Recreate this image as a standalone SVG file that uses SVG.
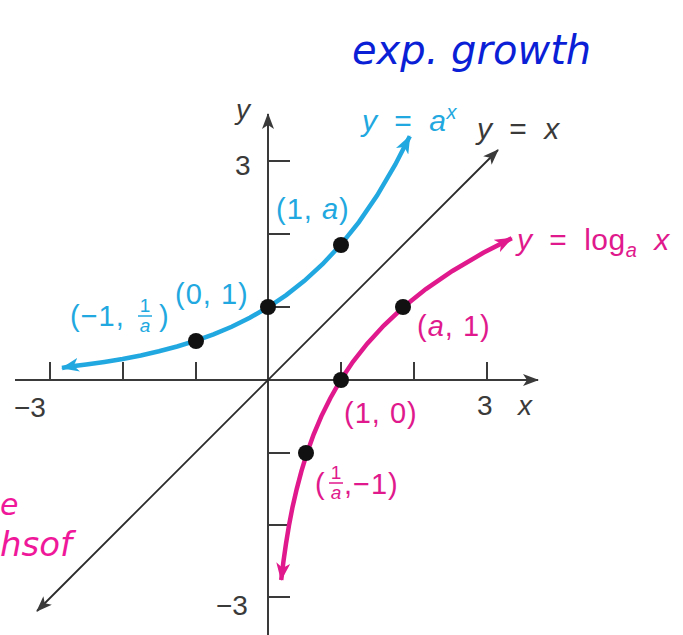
<svg xmlns="http://www.w3.org/2000/svg" width="683" height="635" viewBox="0 0 683 635">
<style>
.ax{stroke:#3a3a3a;stroke-width:2;fill:none}
.tk{stroke:#3a3a3a;stroke-width:2}
.lbl{font-family:"Liberation Sans",Arial,sans-serif;font-size:28px}
.pl{font-size:29px;letter-spacing:1px}
.eq{font-size:30px;word-spacing:8px;letter-spacing:0.5px}
.fr{font-size:19px}
.k{fill:#3a3a3a}
.b{fill:#22a8e0}
.m{fill:#e0198c}
.dot{fill:#111}
.hw{font-family:"DejaVu Sans","Liberation Sans",sans-serif;font-style:italic}
</style>
<defs>
<marker id="ak" markerWidth="16" markerHeight="12" refX="15" refY="6" orient="auto-start-reverse" markerUnits="userSpaceOnUse"><path d="M0,0 L16,6 L0,12 L4,6 Z" fill="#3a3a3a"/></marker>
<marker id="ab" markerWidth="18" markerHeight="14" refX="17" refY="7" orient="auto-start-reverse" markerUnits="userSpaceOnUse"><path d="M0,0 L18,7 L0,14 L5,7 Z" fill="#22a8e0"/></marker>
<marker id="am" markerWidth="18" markerHeight="14" refX="17" refY="7" orient="auto-start-reverse" markerUnits="userSpaceOnUse"><path d="M0,0 L18,7 L0,14 L5,7 Z" fill="#e0198c"/></marker>
</defs>
<rect width="683" height="635" fill="#fff"/>
<g id="axes">
<line class="ax" x1="15" y1="380" x2="538" y2="380" marker-end="url(#ak)"/>
<line class="ax" x1="268" y1="635" x2="268" y2="114" marker-end="url(#ak)"/>
<g class="tk">
<line x1="50" y1="362" x2="50" y2="380"/><line x1="123" y1="362" x2="123" y2="380"/><line x1="196" y1="362" x2="196" y2="380"/>
<line x1="341" y1="362" x2="341" y2="380"/><line x1="414" y1="362" x2="414" y2="380"/><line x1="487" y1="362" x2="487" y2="380"/>
<line x1="268" y1="161" x2="290" y2="161"/><line x1="268" y1="234" x2="290" y2="234"/><line x1="268" y1="307" x2="290" y2="307"/>
<line x1="268" y1="453" x2="290" y2="453"/><line x1="268" y1="525" x2="290" y2="525"/><line x1="268" y1="597" x2="290" y2="597"/>
</g>
<text class="lbl k" x="14" y="417">−3</text>
<text class="lbl k" x="477" y="415">3</text>
<text class="lbl k" x="518" y="415" font-style="italic">x</text>
<text class="lbl k" x="235" y="175">3</text>
<text class="lbl k" x="216" y="615">−3</text>
<text class="lbl k" x="236" y="119" font-style="italic">y</text>
</g>
<g id="connectors">
<line id="yx" x1="37" y1="611" x2="498" y2="150" stroke="#2a2a2a" stroke-width="1.8" marker-start="url(#ak)" marker-end="url(#ak)"/>
<polyline id="expc" fill="none" stroke="#22a8e0" stroke-width="4.5" marker-start="url(#ab)" marker-end="url(#ab)" points="62,368 68.1,366.8 86.25,364.6 104.4,362 122.6,359 140.8,355.5 158.95,351.3 177.1,346.5 195.3,340.9 213.5,334.4 231.65,326.7 249.8,317.7 268,307.3 286.2,295.1 304.35,280.8 322.5,264.2 340.7,244.8 358.9,222.1 377.05,195.6 395.2,164.7 409.8,136.2"/>
<polyline id="logc" fill="none" stroke="#e0198c" stroke-width="4.5" marker-start="url(#am)" marker-end="url(#am)" points="281.2,579.9 283.4,561.75 286,543.6 289,525.4 292.5,507.2 296.7,489.05 301.5,470.9 307.1,452.7 313.6,434.5 321.3,416.35 330.3,398.2 340.7,380 352.9,361.8 367.2,343.65 383.8,325.5 403.2,307.3 425.9,289.1 452.4,270.95 483.3,252.8 511.8,238.2"/>
</g>
<g id="points">
<circle class="dot" cx="196" cy="341" r="8"/>
<circle class="dot" cx="268" cy="307" r="8"/>
<circle class="dot" cx="341" cy="245" r="8"/>
<circle class="dot" cx="403" cy="307" r="8"/>
<circle class="dot" cx="341" cy="380" r="8"/>
<circle class="dot" cx="306" cy="453" r="8"/>
</g>
<g id="labels">
<text class="lbl eq b" x="362" y="131"><tspan font-style="italic">y</tspan> = <tspan font-style="italic">a</tspan><tspan font-style="italic" font-size="20" dy="-12">x</tspan></text>
<text class="lbl eq k" x="477" y="139"><tspan font-style="italic">y</tspan> = <tspan font-style="italic">x</tspan></text>
<text class="lbl eq m" x="517" y="250"><tspan font-style="italic">y</tspan> = log<tspan font-style="italic" font-size="20" dy="7">a</tspan><tspan dy="-7" font-style="italic"> x</tspan></text>
<text class="lbl pl b" x="276" y="219">(1, <tspan font-style="italic">a</tspan>)</text>
<text class="lbl pl b" x="175" y="304">(0, 1)</text>
<text class="lbl pl b" x="70" y="326">(−1,</text>
<text class="lbl fr b" x="145" y="312" text-anchor="middle">1</text>
<line x1="138" y1="316" x2="152" y2="316" stroke="#22a8e0" stroke-width="1.5"/>
<text class="lbl fr b" x="145" y="332" text-anchor="middle" font-style="italic">a</text>
<text class="lbl pl b" x="159" y="326">)</text>
<text class="lbl pl m" x="417" y="336">(<tspan font-style="italic">a</tspan>, 1)</text>
<text class="lbl pl m" x="344" y="423">(1, 0)</text>
<text class="lbl pl m" x="315" y="494">(</text>
<text class="lbl fr m" x="336" y="479" text-anchor="middle">1</text>
<line x1="329" y1="483" x2="343" y2="483" stroke="#e0198c" stroke-width="1.5"/>
<text class="lbl fr m" x="336" y="499" text-anchor="middle" font-style="italic">a</text>
<text class="lbl pl m" x="344" y="494">,−1)</text>
</g>
<g id="handwriting">
<text class="hw" x="352" y="64" font-size="40" fill="#0a1fd6">exp. growth</text>
<text class="hw" x="0" y="515" font-size="30" fill="#f0189a">e</text>
<text class="hw" x="0" y="556" font-size="34" fill="#f0189a">hsof</text>
</g>
</svg>
